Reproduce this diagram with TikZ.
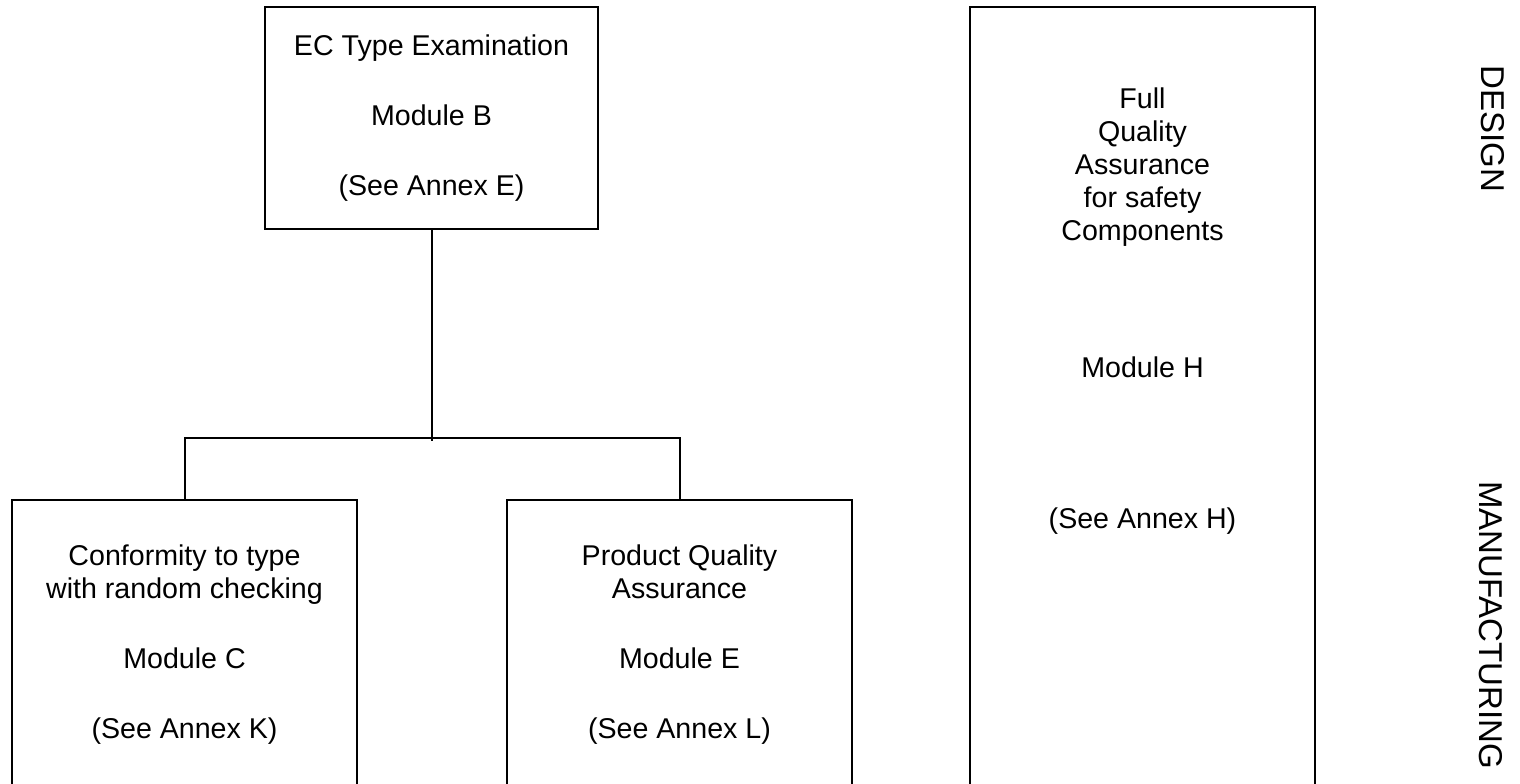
\documentclass[tikz,border=0pt]{standalone}
\usepackage{fontspec}
\setmainfont{Liberation Sans}
\usetikzlibrary{positioning}

\begin{document}
\begin{tikzpicture}[x=0.5pt,y=-0.5pt]
 \tikzset{module node/.style={rectangle, draw, line width=1pt,
 		text centered, align=center, minimum width=172.5pt,
 		font=\fontsize{14.3}{16.5}\selectfont}, }
 \tikzset{text node/.style={align=center,
 		font=\fontsize{14.3}{16.5}\selectfont}, }
 \tikzset{phase node/.style={rotate=-90,
 		font=\fontsize{16.5}{19}\selectfont}, }
 \tikzset{linea/.style={line width=1pt},}
 \path[use as bounding box, clip] (0,0) rectangle (1520,783);
 \node[module node, minimum width=166.5pt, minimum height=111pt] (B) at (431.5,118)
 	{EC Type Examination\\[18.5pt]Module B\\[18.5pt](See Annex E)};
 \node[module node, minimum height=144.5pt] (C) at (184.5,644.5)
 	{Conformity to type\\with random checking\\[18.5pt]Module C\\[18.5pt](See Annex K)};
 \node[module node, minimum height=144.5pt] (E) at (679.5,644.5)
 	{Product Quality\\Assurance\\[18.5pt]Module E\\[18.5pt](See Annex L)};
 \node[module node, minimum height=400pt] (H) at (1142.5,407) {};
 \node[text node] (Htext) at (1142.5,311)
 	{Full\\Quality\\Assurance\\for safety\\Components\\[52pt]Module H\\[59pt](See Annex H)};
 \node[phase node] (design) at (1493,129) {DESIGN};
 \node[phase node] (manuf) at (1491,625) {MANUFACTURING};
 \coordinate (fork) at (431.5,438);
 \coordinate (forkend) at (431.5,441);
 \draw[linea] (B.south) -- (forkend);
 \draw[linea] (C.north) |- (fork) -| (E.north);
 % 
\end{tikzpicture}
\end{document}
